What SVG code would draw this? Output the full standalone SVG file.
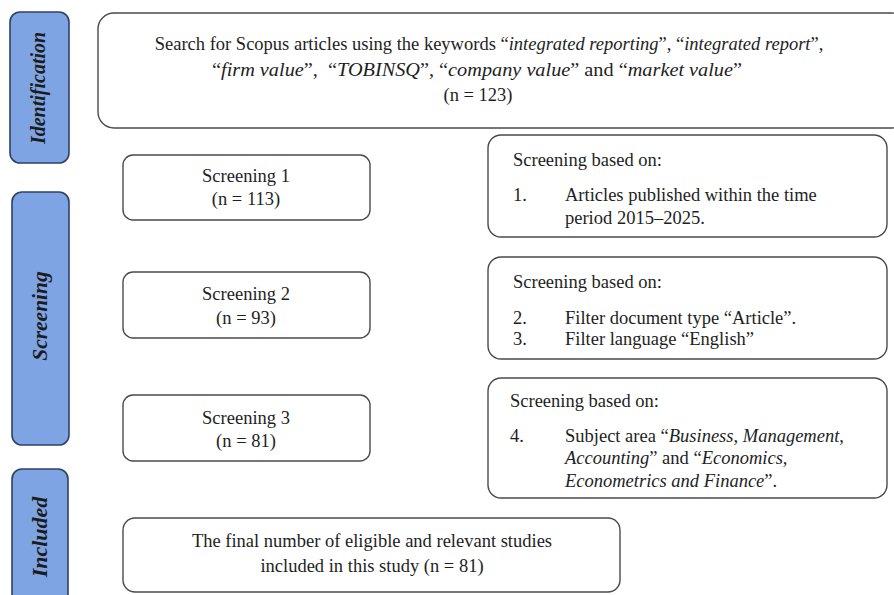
<svg xmlns="http://www.w3.org/2000/svg" width="894" height="595" viewBox="0 0 894 595">
<style>
.pill{fill:#7ea4e4;stroke:#2f4166;stroke-width:1.6}
.box{fill:#ffffff;stroke:#4a4a4a;stroke-width:1.4}
.t{font-family:"Liberation Serif","Times New Roman",serif;font-size:18.5px;fill:#1e1e1e}
.c{text-anchor:middle}
.lab{font-family:"Liberation Serif","Times New Roman",serif;font-weight:bold;font-style:italic;fill:#1c1c1c;text-anchor:middle}
.i{font-style:italic}
</style>
<rect width="894" height="595" fill="#ffffff"/>
<g id="stage-identification">
<rect class="pill" x="10" y="12" width="59" height="151" rx="10"/>
<text class="lab" font-size="20" transform="translate(45,88) rotate(-90)">Identification</text>
</g>
<g id="stage-screening">
<rect class="pill" x="12" y="192" width="57" height="253" rx="10"/>
<text class="lab" font-size="21.5" transform="translate(47,316) rotate(-90)">Screening</text>
</g>
<g id="stage-included">
<rect class="pill" x="12" y="469" width="56" height="140" rx="10"/>
<text class="lab" font-size="22" transform="translate(47,537) rotate(-90)">Included</text>
</g>
<g id="search">
<rect class="box" x="98" y="13" width="810" height="115" rx="16"/>
<text class="t c" x="489" y="50">Search for Scopus articles using the keywords “<tspan class="i">integrated reporting</tspan>”, “<tspan class="i">integrated report</tspan>”,</text>
<text class="t c" x="477" y="76" textLength="530" lengthAdjust="spacingAndGlyphs">“<tspan class="i">firm value</tspan>”, &#160;“<tspan class="i">TOBINSQ</tspan>”, “<tspan class="i">company value</tspan>” and “<tspan class="i">market value</tspan>”</text>
<text class="t c" x="478" y="101">(n = 123)</text>
</g>
<g id="screening1">
<rect class="box" x="123" y="155" width="247" height="65" rx="10"/>
<text class="t c" x="246" y="182">Screening 1</text>
<text class="t c" x="246" y="205">(n = 113)</text>
</g>
<g id="screening2">
<rect class="box" x="123" y="272" width="247" height="66" rx="10"/>
<text class="t c" x="246" y="300">Screening 2</text>
<text class="t c" x="246" y="324">(n = 93)</text>
</g>
<g id="screening3">
<rect class="box" x="123" y="395" width="247" height="66" rx="10"/>
<text class="t c" x="246" y="424">Screening 3</text>
<text class="t c" x="246" y="447">(n = 81)</text>
</g>
<g id="criteria1">
<rect class="box" x="488" y="135" width="399" height="102" rx="13"/>
<text class="t" x="513" y="166">Screening based on:</text>
<text class="t" x="513" y="201">1.</text>
<text class="t" x="565" y="201">Articles published within the time</text>
<text class="t" x="565" y="224">period 2015–2025.</text>
</g>
<g id="criteria2">
<rect class="box" x="488" y="257" width="399" height="102" rx="13"/>
<text class="t" x="513" y="288">Screening based on:</text>
<text class="t" x="513" y="324">2.</text>
<text class="t" x="565" y="324">Filter document type “Article”.</text>
<text class="t" x="513" y="345">3.</text>
<text class="t" x="565" y="345">Filter language “English”</text>
</g>
<g id="criteria3">
<rect class="box" x="488" y="378" width="399" height="120" rx="13"/>
<text class="t" x="510" y="407">Screening based on:</text>
<text class="t" x="510" y="442">4.</text>
<text class="t" x="565" y="442">Subject area “<tspan class="i">Business, Management</tspan>,</text>
<text class="t" x="565" y="464"><tspan class="i">Accounting</tspan>” and “<tspan class="i">Economics,</tspan></text>
<text class="t" x="565" y="487"><tspan class="i">Econometrics and Finance</tspan>”.</text>
</g>
<g id="final">
<rect class="box" x="123" y="518" width="497" height="74" rx="12"/>
<text class="t c" x="372" y="547">The final number of eligible and relevant studies</text>
<text class="t c" x="372" y="572">included in this study (n = 81)</text>
</g>
<g id="connectors"></g>
</svg>
